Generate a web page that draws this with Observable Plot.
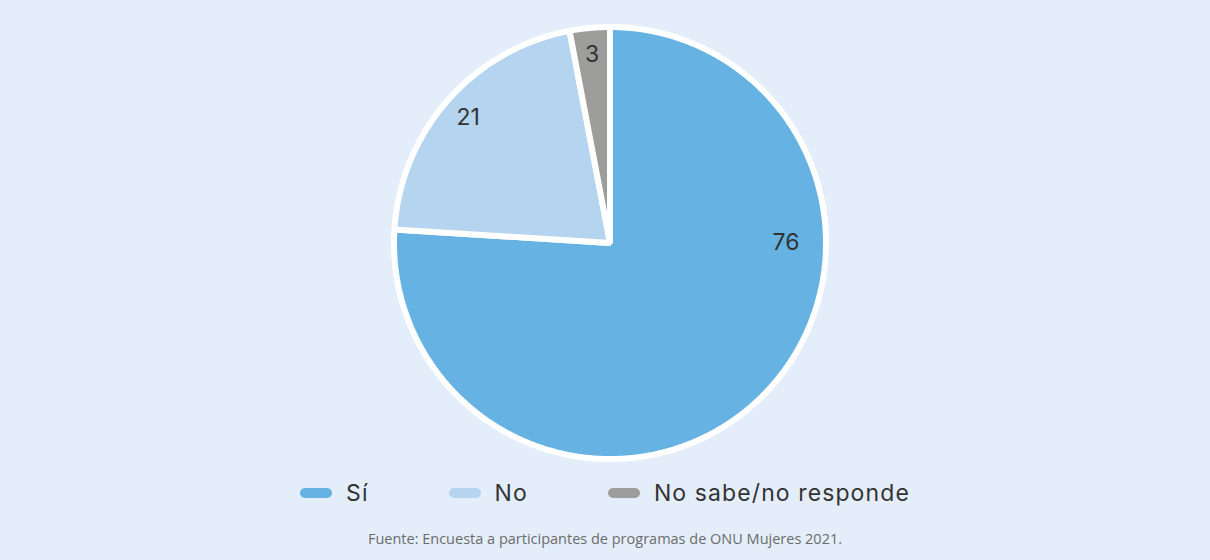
<!DOCTYPE html>
<html>
<head>
<meta charset="utf-8">
<script src="https://cdn.jsdelivr.net/npm/d3@7"></script>
<script src="https://cdn.jsdelivr.net/npm/@observablehq/plot@0.6"></script>
<style>
  html, body { margin: 0; padding: 0; background: #E4EEFA; }
  body { width: 1210px; height: 560px; overflow: hidden; font-family: Inter, "Noto Sans", sans-serif; }
  #chart svg { display: block; background: transparent; }
  #legend { display: flex; justify-content: center; align-items: center; gap: 80px; height: 46px; margin-top: 0; font-size: 23px; color: #333; letter-spacing: 1.1px; }
  .item { display: flex; align-items: center; }
  .sw { width: 32px; height: 10px; border-radius: 5px; margin-right: 14px; }
  #caption { text-align: center; font-family: "Open Sans", sans-serif; font-size: 14.5px; color: #6b6b6b; margin-top: 13px; }
</style>
</head>
<body>
<div id="chart"></div>
<div id="legend"></div>
<div id="caption">Fuente: Encuesta a participantes de programas de ONU Mujeres 2021.</div>
<script>
const categories = ["Sí", "No", "No sabe/no responde"];
const values = [76, 21, 3];
const colors = ["#66B3E3", "#B4D4EF", "#9D9D9C"];

const data = categories.map((c, i) => ({ key: c, value: values[i] }));
const arcs = d3.pie().sort(null).value(d => d.value)(data);

// build slice polygons (angle measured clockwise from top)
const points = [];
for (const a of arcs) {
  points.push({ key: a.data.key, x: 0, y: 0 });
  const n = Math.max(2, Math.ceil((a.endAngle - a.startAngle) / (Math.PI / 360)));
  for (let k = 0; k <= n; k++) {
    const t = a.startAngle + (a.endAngle - a.startAngle) * k / n;
    points.push({ key: a.data.key, x: Math.sin(t), y: Math.cos(t) });
  }
}

const labels = arcs.map(a => {
  const mid = (a.startAngle + a.endAngle) / 2;
  const ang = Math.min(mid, a.startAngle + Math.PI / 2);
  const r = a.data.value > 50 ? 0.815 : 0.875;
  return { text: String(a.data.value), x: r * Math.sin(ang), y: r * Math.cos(ang) };
});

const cx = 609.5, cy = 242.5, R = 216;
const chart = Plot.plot({
  width: 1210,
  height: 470,
  margin: 0,
  x: { domain: [-1, 1], range: [cx - R, cx + R], axis: null },
  y: { domain: [-1, 1], range: [cy + R, cy - R], axis: null },
  color: { domain: categories, range: colors },
  style: { background: "transparent" },
  marks: [
    Plot.line(points, { x: "x", y: "y", z: "key", fill: "key", stroke: "white", strokeWidth: 6, curve: "linear-closed", strokeLinejoin: "miter" }),
    Plot.text(labels, { x: "x", y: "y", text: "text", fontSize: 23, fill: "#333", fontFamily: "Inter, sans-serif" })
  ]
});
document.getElementById("chart").appendChild(chart);

const legend = document.getElementById("legend");
categories.forEach((c, i) => {
  const it = document.createElement("div");
  it.className = "item";
  const sw = document.createElement("span");
  sw.className = "sw";
  sw.style.background = colors[i];
  const tx = document.createElement("span");
  tx.textContent = c;
  it.appendChild(sw); it.appendChild(tx);
  legend.appendChild(it);
});
</script>
</body>
</html>
